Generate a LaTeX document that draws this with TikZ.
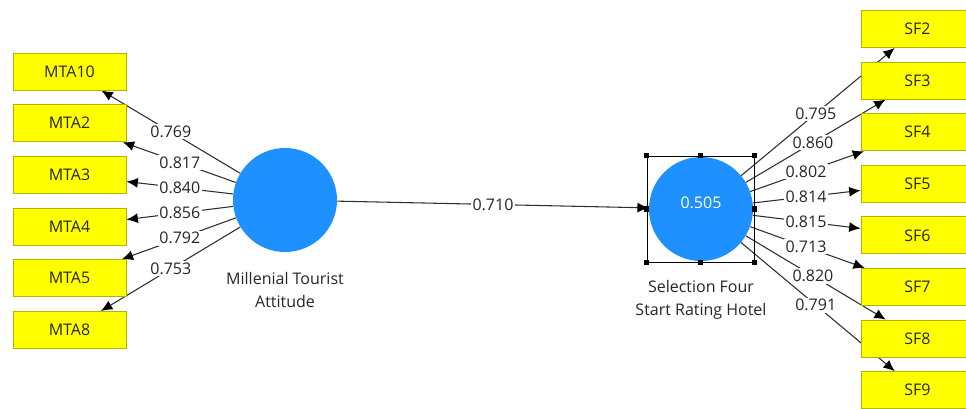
\documentclass[tikz,border=0pt]{standalone}
\usepackage{fontspec}
\setmainfont{Open Sans}
\usetikzlibrary{arrows.meta,calc,backgrounds}
\definecolor{lvblue}{HTML}{1E90FF}
\definecolor{indyellow}{HTML}{FFFF00}
\definecolor{indborder}{HTML}{B4B400}
\definecolor{edgegray}{HTML}{2E2E2E}
\definecolor{txtgray}{HTML}{262626}
\begin{document}
\begin{tikzpicture}[x=0.75pt,y=-0.75pt,
  font=\fontsize{12}{17}\selectfont,
  indbox/.style={draw=indborder,fill=indyellow,minimum width=84.75pt,minimum height=27.75pt,inner sep=0pt,text=txtgray,line width=0.75pt},
  latent/.style={circle,fill=lvblue,minimum size=78pt,inner sep=0pt},
  loading/.style={draw=edgegray,line width=0.8pt,-{Latex[length=8.5pt,width=7.5pt,color=black]}},
  coef/.style={fill=white,inner sep=1.2pt,text=txtgray},
  handle/.style={fill=black,minimum size=3.8pt,inner sep=0pt},
  selbox/.style={draw=black,line width=0.75pt,minimum width=80.25pt,minimum height=79.5pt,inner sep=0pt},
  caption/.style={align=center,text=txtgray}]
\useasboundingbox (0,0) rectangle (966,408);
% latent variables
\node[latent] (mta) at (285,200) {};
\node[latent] (sf) at (701,209) {};
\node[text=white] (r2) at (701,203) {0.505};
\node[caption] (mtacap) at (285,290) {Millenial Tourist\\Attitude};
\node[caption] (sfcap) at (701,300) {Selection Four\\Start Rating Hotel};
% indicators left
\node[indbox] (m10) at (69.5,71.5) {MTA10};
\node[indbox] (m2) at (69.5,123.2) {MTA2};
\node[indbox] (m3) at (69.5,174.9) {MTA3};
\node[indbox] (m4) at (69.5,226.6) {MTA4};
\node[indbox] (m5) at (69.5,278.3) {MTA5};
\node[indbox] (m8) at (69.5,330) {MTA8};
% indicators right
\node[indbox] (s2) at (917.5,29) {SF2};
\node[indbox] (s3) at (917.5,80.6) {SF3};
\node[indbox] (s4) at (917.5,132.2) {SF4};
\node[indbox] (s5) at (917.5,183.8) {SF5};
\node[indbox] (s6) at (917.5,235.4) {SF6};
\node[indbox] (s7) at (917.5,287) {SF7};
\node[indbox] (s8) at (917.5,338.6) {SF8};
\node[indbox] (s9) at (917.5,390.2) {SF9};
% selection frame
\node[selbox] (sel) at (700.5,209) {};
\foreach \a [count=\i] in {north west,north,north east,east,south east,south,south west,west}
  \node[handle] (h\i) at (sel.\a) {};
\begin{pgfonlayer}{background}
\draw[loading] (mta) -- (sf) node[coef,pos=0.5] (p) {0.710};
\foreach \t/\f/\v in {m10/0.53/0.769, m2/0.488/0.817, m3/0.488/0.840, m4/0.488/0.856, m5/0.488/0.792, m8/0.53/0.753}{
  \draw[loading] (mta) -- (\t);
  \node[coef] (c\t) at ($(mta)!\f!(\t)$) {\v};
}
\foreach \t/\f/\v in {s2/0.53/0.795, s3/0.517/0.860, s4/0.485/0.802, s5/0.485/0.814, s6/0.485/0.815, s7/0.485/0.713, s8/0.517/0.820, s9/0.53/0.791}{
  \draw[loading] (sf) -- (\t);
  \node[coef] (c\t) at ($(sf)!\f!(\t)$) {\v};
}
\end{pgfonlayer}
\end{tikzpicture}
\end{document}
